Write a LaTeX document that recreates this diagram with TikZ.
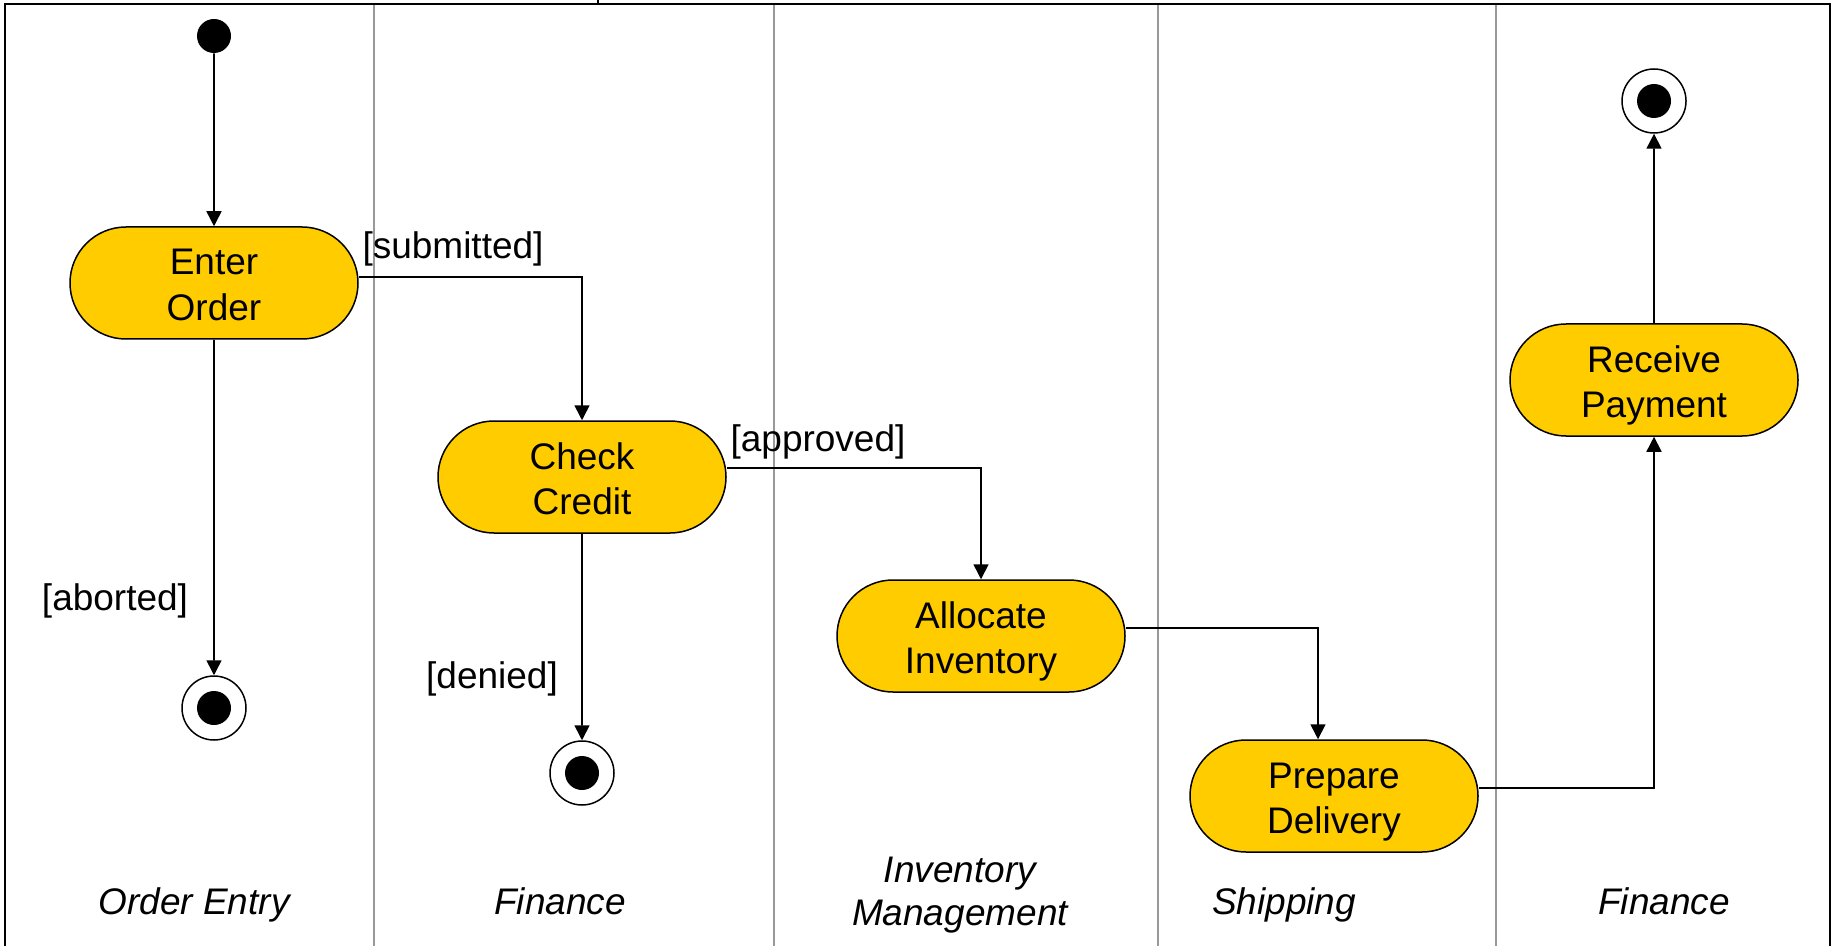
\documentclass[tikz,border=0pt]{standalone}
\usepackage{fontspec}
\setmainfont{Liberation Sans}
\usetikzlibrary{shapes.misc,arrows.meta,calc}
\definecolor{actfill}{HTML}{FFCC00}
\definecolor{lanegray}{HTML}{999999}
\begin{document}
\begin{tikzpicture}[x=0.5pt,y=-0.5pt,
  activity/.style={rounded rectangle, draw=black, line width=0.75pt, fill=actfill,
    minimum width=144pt, minimum height=56pt, inner sep=0pt, align=center,
    font=\fontsize{18.5}{22.8}\selectfont, text height=37.6pt, text depth=0pt},
  initial/.style={circle, fill=black, minimum size=17pt, inner sep=0pt},
  final/.style={circle, draw=black, line width=0.75pt, fill=white, minimum size=32pt, inner sep=0pt,
    path picture={\fill[black] (path picture bounding box.center) circle (8.5pt);}},
  flow/.style={draw=black, line width=0.8pt, -{Triangle[length=7.5pt,width=7.5pt]}},
  guard/.style={font=\fontsize{18.5}{22.8}\selectfont, inner sep=0pt},
  lanelabel/.style={font=\fontsize{18.5}{21.5}\selectfont\itshape, align=center, inner sep=0pt},
  frame/.style={draw=black, line width=1pt},
  lane/.style={draw=lanegray, line width=1pt}]

  \useasboundingbox (0,0) rectangle (1834,946);

  % swimlane frame and dividers
  \draw[frame] (5,946) -- (5,4) -- (1830,4) -- (1830,946);
  \draw[frame] (598,0) -- (598,4);
  \draw[lane] (374,5) -- (374,946);
  \draw[lane] (774,5) -- (774,946);
  \draw[lane] (1158,5) -- (1158,946);
  \draw[lane] (1496,5) -- (1496,946);

  % lane titles
  \node[lanelabel, anchor=base] (laneA) at (194,914) {Order Entry};
  \node[lanelabel, anchor=base] (laneB) at (560,914) {Finance};
  \node[lanelabel] (laneC) at (960,895) {Inventory\\Management};
  \node[lanelabel, anchor=base] (laneD) at (1284,914) {Shipping};
  \node[lanelabel, anchor=base] (laneE) at (1664,914) {Finance};

  % states
  \node[initial] (start) at (214,36) {};
  \node[activity] (enter) at (214,283) {Enter\\Order};
  \node[final] (end1) at (214,708) {};
  \node[activity] (check) at (582,477) {Check\\Credit};
  \node[final] (end2) at (582,773) {};
  \node[activity] (alloc) at (981,636) {Allocate\\Inventory};
  \node[activity] (prep) at (1334,796) {Prepare\\Delivery};
  \node[activity] (recv) at (1654,380) {Receive\\Payment};
  \node[final] (end3) at (1654,101) {};

  % transitions
  \draw[flow] (start) -- (enter);
  \draw[flow] (enter) -- (end1);
  \draw[flow] ([yshift=3pt]enter.east) -| (check);
  \draw[flow] (check) -- (end2);
  \draw[flow] ([yshift=4.5pt]check.east) -| (alloc);
  \draw[flow] ([yshift=4pt]alloc.east) -| ([xshift=-8pt]prep.north);
  \draw[flow] ([yshift=4pt]prep.east) -| (recv);
  \draw[flow] (recv) -- (end3);

  % guards
  \node[guard] (gAbort) at (115,601) {[aborted]};
  \node[guard] (gSubmit) at (453,249) {[submitted]};
  \node[guard] (gDeny) at (492,679) {[denied]};
  \node[guard] (gApprove) at (818,442) {[approved]};
\end{tikzpicture}
\end{document}
